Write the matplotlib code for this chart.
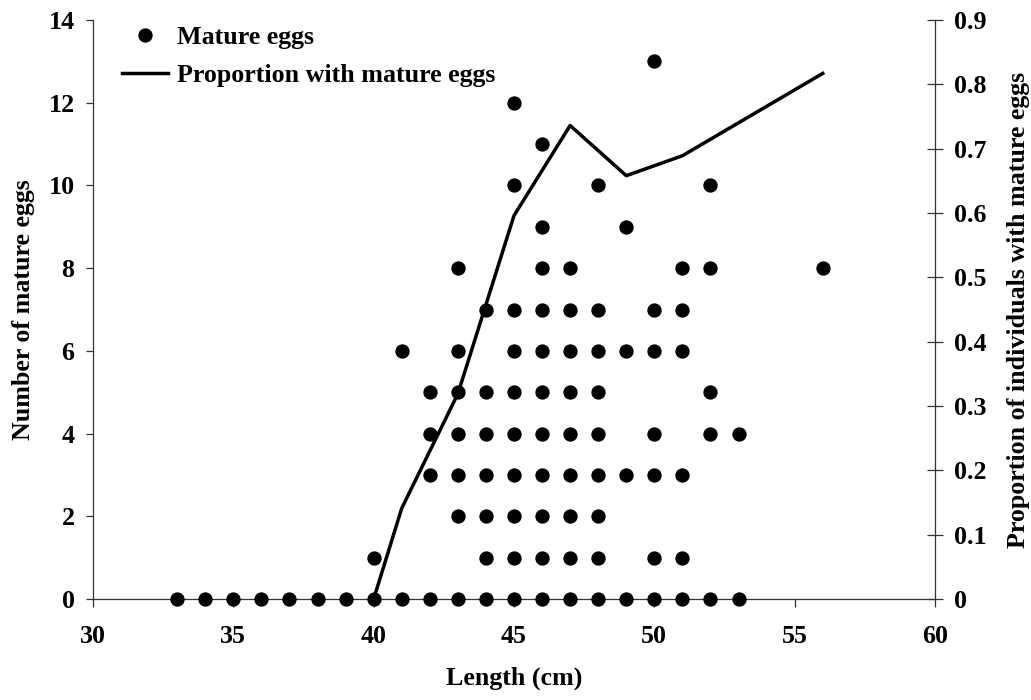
import matplotlib
matplotlib.use("Agg")
import matplotlib.pyplot as plt
from matplotlib.lines import Line2D

plt.rcParams['font.family'] = ['Liberation Serif', 'DejaVu Serif']
plt.rcParams['font.weight'] = 'bold'

# Number of mature eggs observed per fish, grouped by length (cm)
eggs_by_length = {
    33: [0], 34: [0], 35: [0], 36: [0], 37: [0], 38: [0], 39: [0],
    40: [0, 1],
    41: [0, 6],
    42: [0, 3, 4, 5],
    43: [0, 2, 3, 4, 5, 6, 8],
    44: [0, 1, 2, 3, 4, 5, 7],
    45: [0, 1, 2, 3, 4, 5, 6, 7, 10, 12],
    46: [0, 1, 2, 3, 4, 5, 6, 7, 8, 9, 11],
    47: [0, 1, 2, 3, 4, 5, 6, 7, 8],
    48: [0, 1, 2, 3, 4, 5, 6, 7, 10],
    49: [0, 3, 6, 9],
    50: [0, 1, 3, 4, 6, 7, 13],
    51: [0, 1, 3, 6, 7, 8],
    52: [0, 4, 5, 8, 10],
    53: [0, 4],
    56: [8],
}

# Proportion of individuals carrying mature eggs
prop_length = [40, 41, 43, 45, 47, 49, 51, 56]
prop_value = [0.0, 0.141, 0.319, 0.596, 0.736, 0.658, 0.689, 0.817]

x_ticks = [30, 35, 40, 45, 50, 55, 60]
left_ticks = [0, 2, 4, 6, 8, 10, 12, 14]
right_ticks = [0, 0.1, 0.2, 0.3, 0.4, 0.5, 0.6, 0.7, 0.8, 0.9]
right_labels = ['0', '0.1', '0.2', '0.3', '0.4', '0.5', '0.6', '0.7', '0.8', '0.9']

lengths = [l for l, v in eggs_by_length.items() for _ in v]
eggs = [e for v in eggs_by_length.values() for e in v]

FS = 18.7
AXIS_COLOR = '#333333'

fig = plt.figure(figsize=(10.31, 7.0), dpi=100)
ax = fig.add_axes([93 / 1031, 1 - 599 / 700, (935 - 93) / 1031, 579 / 700])
ax2 = ax.twinx()

ax.plot(lengths, eggs, 'o', color='black', markersize=9.3, clip_on=False,
        zorder=3)
ax2.plot(prop_length, prop_value, '-', color='black', linewidth=2.5,
         clip_on=False)

ax.set_xlim(30, 60)
ax.set_ylim(0, 14)
ax2.set_ylim(0, 0.9)
ax.set_xticks(x_ticks)
ax.set_yticks(left_ticks)
ax2.set_yticks(right_ticks)
ax2.set_yticklabels(right_labels)

for a in (ax, ax2):
    a.spines['top'].set_visible(False)
    for s in a.spines.values():
        s.set_linewidth(0.9)
        s.set_color(AXIS_COLOR)
ax.spines['right'].set_visible(False)
ax2.spines['left'].set_visible(False)
ax2.spines['bottom'].set_visible(False)

ax.tick_params(axis='x', direction='out', length=5.5, width=0.9,
               color=AXIS_COLOR, labelsize=FS, pad=13.5)
ax.tick_params(axis='y', direction='out', length=5.3, width=0.9,
               color=AXIS_COLOR, labelsize=FS, pad=8)
ax2.tick_params(axis='y', direction='inout', length=11, width=0.9,
                color=AXIS_COLOR, labelsize=FS, pad=8)

ax.set_xlabel('Length (cm)', fontsize=FS, fontweight='bold', labelpad=13)
ax.set_ylabel('Number of mature eggs', fontsize=FS, fontweight='bold',
              labelpad=10)
ax2.set_ylabel('Proportion of individuals with mature eggs', fontsize=FS,
               fontweight='bold', labelpad=15)

handles = [
    Line2D([], [], marker='o', linestyle='none', color='black',
           markersize=9.3),
    Line2D([], [], linestyle='-', color='black', linewidth=2.5),
]
ax2.legend(handles, ['Mature eggs', 'Proportion with mature eggs'],
           loc='upper left', bbox_to_anchor=(0.034, 0.990), frameon=False,
           borderpad=0, borderaxespad=0,
           prop={'size': FS, 'weight': 'bold'}, handlelength=1.8,
           handletextpad=0.33, labelspacing=0.58)

fig.savefig('out.png', dpi=100)
